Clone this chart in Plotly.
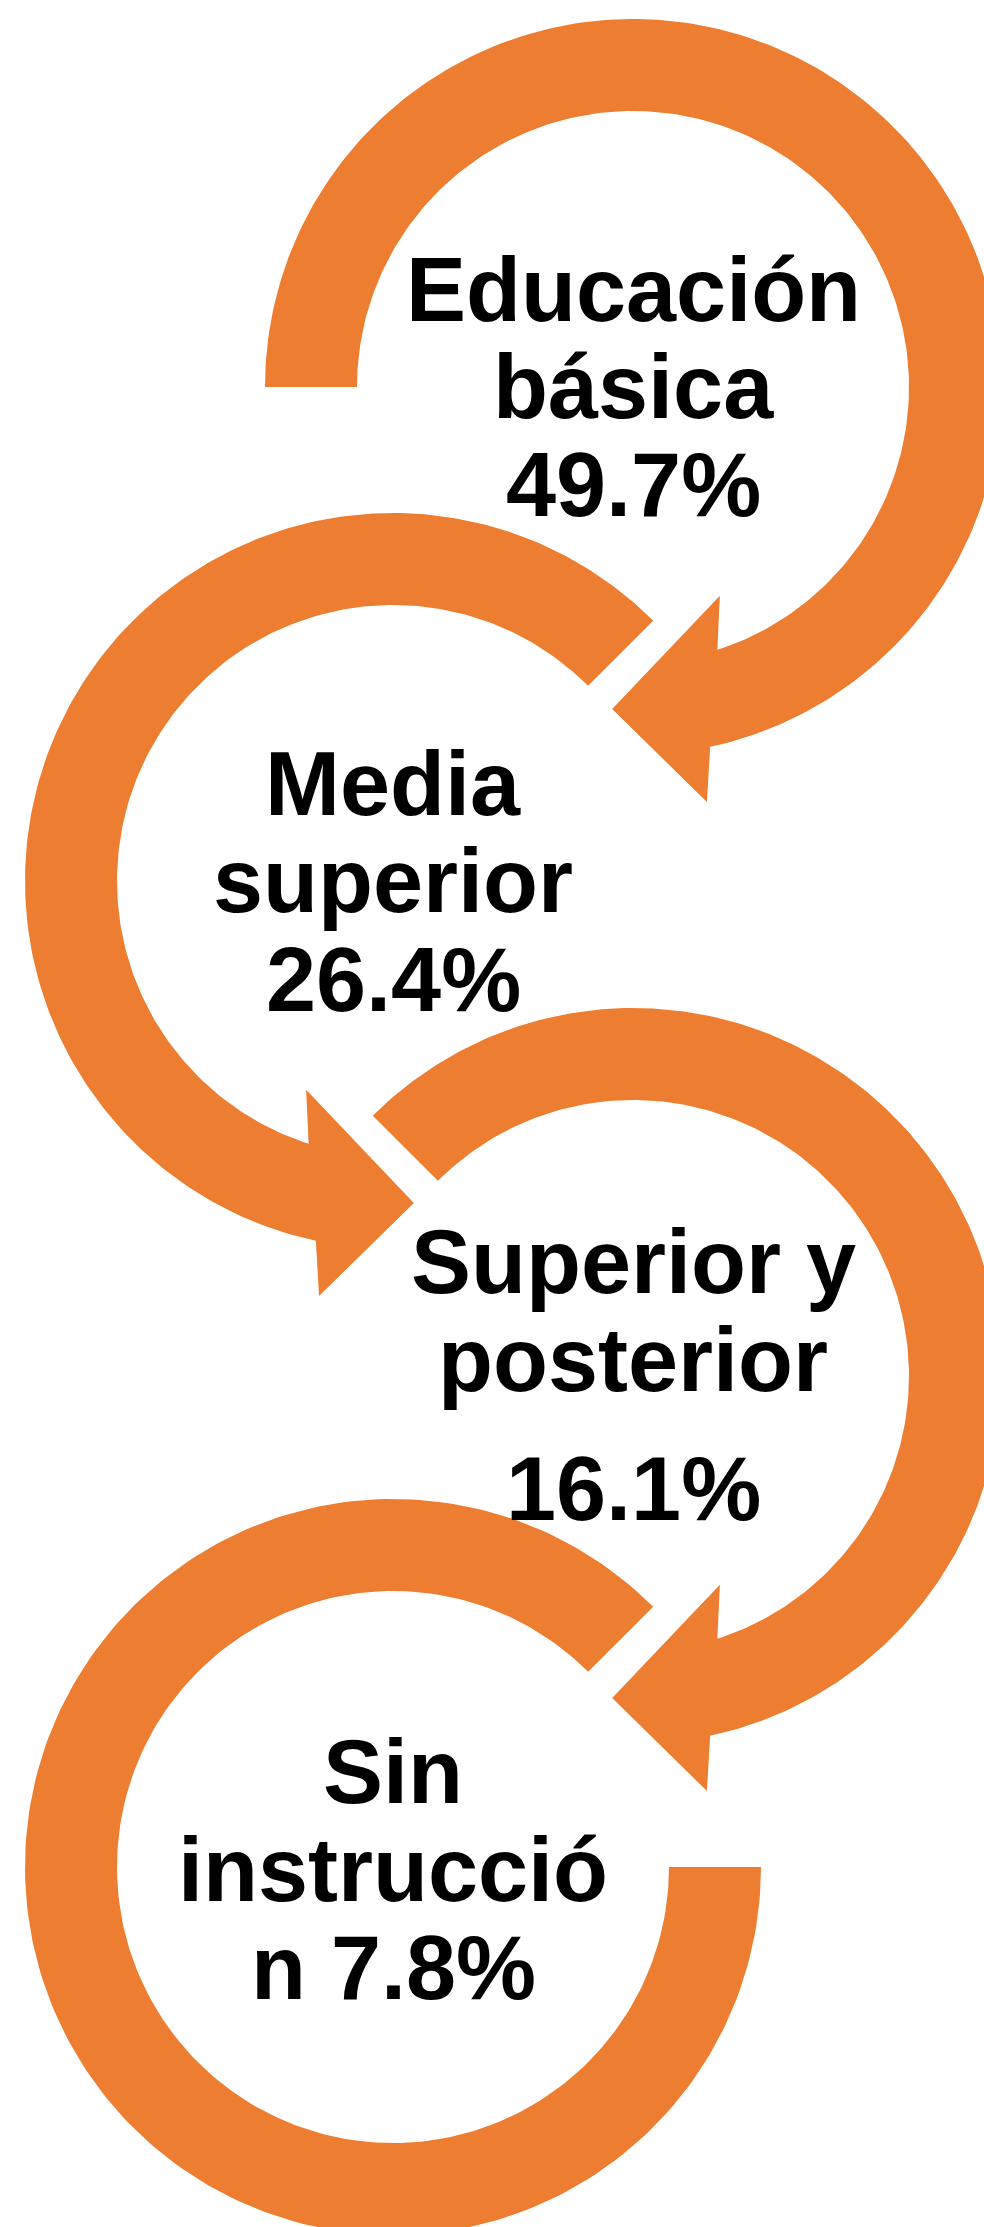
import numpy as np
import plotly.graph_objects as go

# data
categories = ["Educación básica", "Media superior", "Superior y posterior", "Sin instrucción"]
shares = [49.7, 26.4, 16.1, 7.8]
# character positions where each "category share%" label wraps, as in the original
line_breaks = [[9, 16], [5, 14], [10, 20], [3, 14]]

W, H = 984, 2227
ORANGE = "#ED7D31"

# ring layout (pixels)
cx = [633, 393, 633, 393]
cy = [387, 881, 1376, 1867]
start_ang = [180, 225, 225, 225]
mirror = [False, True, False, True]
has_arrow = [True, True, True, False]
R_OUT, R_IN = 368, 276
# baseline offset of each text line from the ring centre
line_dy = [[-66, 31, 129], [-66, 31, 130], [-83, 15, 144], [-64, 34, 132]]
FS = 90


def polar(c_x, c_y, ang, r, flip):
    th = np.radians(180 - ang if flip else ang)
    return c_x + r * np.cos(th), c_y + r * np.sin(th)


def ring(i):
    a0 = start_ang[i]
    if has_arrow[i]:
        a_out, a_in = 437.9, 432.2
    else:
        a_out, a_in = 540, 540
    pts = [(a, R_OUT) for a in np.linspace(a0, a_out, 240)]
    if has_arrow[i]:
        pts += [(439.9, 421.5), (453.7, 322.7), (427.4, 226)]
    pts += [(a, R_IN) for a in np.linspace(a_in, a0, 240)]
    xs, ys = [], []
    for a, r in pts:
        x, y = polar(cx[i], cy[i], a, r, mirror[i])
        xs.append(x)
        ys.append(y)
    xs.append(xs[0])
    ys.append(ys[0])
    return xs, ys


fig = go.Figure()
for i in range(len(categories)):
    xs, ys = ring(i)
    fig.add_trace(go.Scatter(
        x=xs, y=ys, mode="lines", fill="toself",
        fillcolor=ORANGE, line=dict(width=0, color=ORANGE),
        hoverinfo="skip", showlegend=False,
    ))

annotations = []
for i, cat in enumerate(categories):
    full = f"{cat} {shares[i]}%"
    b = [0] + line_breaks[i] + [len(full)]
    lines = [full[b[k]:b[k + 1]].strip() for k in range(len(b) - 1)]
    for k, txt in enumerate(lines):
        annotations.append(dict(
            x=cx[i], y=cy[i] + line_dy[i][k] - 0.3465 * FS,
            xref="x", yref="y", text=f"<b>{txt}</b>", showarrow=False,
            xanchor="center", yanchor="middle",
            font=dict(family="Liberation Sans, Arial, sans-serif", size=FS, color="black"),
        ))

fig.update_layout(
    width=W, height=H,
    margin=dict(l=0, r=0, t=0, b=0),
    paper_bgcolor="white", plot_bgcolor="white",
    xaxis=dict(range=[0, W], visible=False, fixedrange=True),
    yaxis=dict(range=[H, 0], visible=False, fixedrange=True),
    annotations=annotations,
)

# drop the default page margin so the figure sits at the window's corner
fig.write_html("out.html", config={"displayModeBar": False},
               post_script="document.body.style.margin='0';")
